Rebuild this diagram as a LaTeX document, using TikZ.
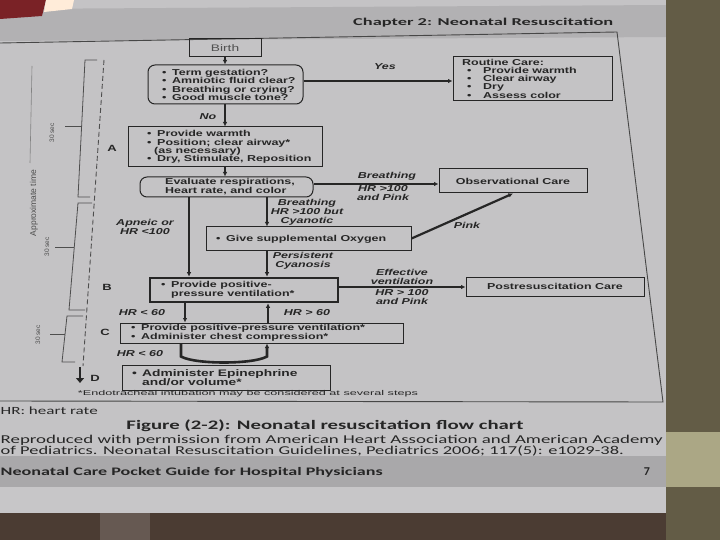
\documentclass[tikz,border=0pt]{standalone}
\usepackage{fontspec}
\usepackage{graphicx}
\usetikzlibrary{arrows.meta,calc}
\setmainfont{Liberation Sans}
\newfontfamily\df[FakeStretch=1.45]{Liberation Sans}
\newfontfamily\cf{Carlito}
\newcommand\hsz[2]{\resizebox{#1}{\height}{#2}}
\newcommand\bl{\makebox[10pt][l]{\textbullet}}
\newcommand\rbl{\hspace{5pt}\makebox[16pt][l]{\textbullet}}
\definecolor{ink}{HTML}{262626}
\definecolor{pagec}{HTML}{C4C3C5}
\definecolor{hdrc}{HTML}{B2B1B3}
\definecolor{ftrc}{HTML}{A9A8AA}
\definecolor{photoc}{HTML}{4B3C33}
\definecolor{olive}{HTML}{635C46}
\definecolor{khaki}{HTML}{ABA785}
\definecolor{redc}{HTML}{7A2226}
\definecolor{tgray}{HTML}{4E4E4E}
\begin{document}
\begin{tikzpicture}[x=1pt,y=-1pt,
  bx/.style={draw=ink, line width=1pt, inner sep=0pt, text=ink,
    font=\df\bfseries\fontsize{8.6}{8.3}\selectfont},
  rbx/.style={bx, rounded corners=7pt},
  txt/.style={inner sep=0pt, text=ink, align=left, anchor=west,
    font=\df\bfseries\fontsize{8.6}{8.3}\selectfont},
  lbl/.style={inner sep=0pt, text=ink, align=center,
    font=\df\bfseries\itshape\fontsize{8.6}{9}\selectfont},
  side/.style={inner sep=0pt, text=ink, font=\df\bfseries\fontsize{9}{9}\selectfont},
  thk/.style={draw=ink, line width=2.6pt},
  thkp/.style={draw=ink, line width=2.2pt},
  thn/.style={draw=ink, line width=1.2pt},
  arr/.style={-{Latex[length=4.5pt,width=4.5pt]}},
  tl/.style={draw=tgray, line width=0.8pt},
  tlab/.style={inner sep=0pt, text=tgray, rotate=90, font=\fontsize{6.5}{7}\selectfont},
  pg/.style={inner sep=0pt, text=ink}]
\useasboundingbox (0,0) rectangle (720,540);
% ---------- photo background ----------
\fill[photoc] (0,0) rectangle (720,540);
\fill[pagec] (0,0) rectangle (666,513);
\fill[hdrc] (0,9) -- (666,5) -- (666,37) -- (0,41) -- cycle;
\fill[redc] (0,0) -- (46,0) -- (42,16) -- (0,19) -- cycle;
\fill[white!85!orange] (46,0) -- (74,0) -- (72,9) -- (44,12) -- cycle;
\fill[ftrc] (0,456) rectangle (666,487);
\fill[pagec!95!white] (0,487) rectangle (666,513);
\fill[photoc!85!white] (100,513) rectangle (150,540);
\fill[olive] (666,0) rectangle (720,540);
\fill[khaki] (666,432) rectangle (720,487);
% ---------- page texts ----------
\node[pg, anchor=west] (hdr) at (353,23) {\hsz{260pt}{\cf\bfseries\fontsize{10.5}{11}\selectfont Chapter 2: Neonatal Resuscitation}};
\draw[ink!85, line width=0.9pt] (0,43) -- (617,32) -- (663,402) -- (0,401);
\node[pg, anchor=west] (hrnote) at (0.5,411) {\hsz{97pt}{\cf\fontsize{11}{12}\selectfont HR: heart rate}};
\node[pg] (cap) at (325,426) {\hsz{397pt}{\cf\bfseries\fontsize{13}{14}\selectfont Figure (2-2): Neonatal resuscitation flow chart}};
\node[pg, anchor=west] (rep1) at (0.5,440) {\hsz{662pt}{\cf\fontsize{12}{12}\selectfont Reproduced with permission from American Heart Association and American Academy}};
\node[pg, anchor=west] (rep2) at (0.5,451) {\hsz{623pt}{\cf\fontsize{12}{12}\selectfont of Pediatrics. Neonatal Resuscitation Guidelines, Pediatrics 2006; 117(5): e1029-38.}};
\node[pg, anchor=west] (ftr) at (0.5,472) {\hsz{382pt}{\cf\bfseries\fontsize{11.5}{12}\selectfont Neonatal Care Pocket Guide for Hospital Physicians}};
\node[pg] (pgno) at (647,472) {\cf\bfseries\fontsize{12}{12}\selectfont 7};
% ---------- timeline ----------
\draw[tgray, line width=0.9pt, dash pattern=on 5pt off 3pt] (104,60) -- (83,366);
\draw[tl] (97,60) -- (85,60) -- (78,197) -- (90,197);
\draw[tl] (81.5,126) -- (65,126);
\node[tlab] (t1) at (52,133) {30 sec};
\draw[tl] (92,203) -- (78,203) -- (69,310) -- (85,310);
\draw[tl] (73.5,247) -- (55,247);
\node[tlab] (t2) at (47,247) {30 sec};
\draw[tl] (83,316) -- (67,316) -- (62,362) -- (75,362);
\draw[tl] (64.5,334) -- (50,334);
\node[tlab] (t3) at (38,335) {30 sec};
\draw[tgray!70, line width=0.6pt] (32,66) -- (30,163);
\node[tlab, font=\fontsize{8.5}{9}\selectfont] (apt) at (34,203) {Approximate time};
% ---------- side letters ----------
\node[side] (sA) at (112,148) {A};
\node[side] (sB) at (107,287) {B};
\node[side] (sC) at (105,332) {C};
\node[side] (sD) at (95,378) {D};
\coordinate (dtop) at (80,367);
\coordinate (dbot) at (80,383);
\draw[ink, line width=2.8pt, -{Triangle[length=5pt,width=8pt]}] (dtop) -- (dbot);
% ---------- boxes ----------
\node[bx, minimum width=72, minimum height=18, font=\df\fontsize{9.5}{10}\selectfont, text=ink!80] (Birth) at (225,48) {Birth};
\node[rbx, minimum width=155, minimum height=39] (Q) at (225.5,84.5) {};
\node[txt] (Qt) at (162,85) {\bl Term gestation?\\\bl Amniotic fluid clear?\\\bl Breathing or crying?\\\bl Good muscle tone?};
\node[bx, minimum width=159, minimum height=44] (Rt) at (532.5,79) {};
\node[txt, font=\df\bfseries\fontsize{8.6}{7.9}\selectfont] (Rtt) at (462,79) {Routine Care:\\\rbl Provide warmth\\\rbl Clear airway\\\rbl Dry\\\rbl Assess color};
\node[bx, minimum width=194, minimum height=40] (A) at (225,147) {};
\node[txt] (At) at (147,147) {\bl Provide warmth\\\bl Position; clear airway*\\\hspace{7pt}(as necessary)\\\bl Dry, Stimulate, Reposition};
\node[rbx, minimum width=173, minimum height=20] (Ev) at (226.5,187) {};
\node[txt, font=\df\bfseries\fontsize{8.6}{7.6}\selectfont] (Evt) at (165,187) {Evaluate respirations,\\Heart rate, and color};
\node[bx, minimum width=148, minimum height=24] (Obs) at (513,181) {Observational Care};
\node[bx, minimum width=205, minimum height=23] (Ox) at (308.5,238.5) {};
\node[txt] (Oxt) at (216,239) {\bl Give supplemental Oxygen};
\node[bx, line width=2.6pt, minimum width=188, minimum height=24] (PPV) at (244,290) {};
\node[txt, font=\df\bfseries\fontsize{8.6}{8.6}\selectfont] (PPVt) at (161,290) {\bl Provide positive-\\\hspace{10pt}pressure ventilation*};
\node[bx, minimum width=178, minimum height=19] (Po) at (555,286.5) {Postresuscitation Care};
\node[bx, minimum width=283, minimum height=20] (C) at (261.5,333) {};
\node[txt, font=\df\bfseries\fontsize{8.6}{8.8}\selectfont] (Ct) at (131,333) {\bl Provide positive-pressure ventilation*\\\bl Administer chest compression*};
\node[bx, minimum width=208, minimum height=25] (D) at (226,377.5) {};
\node[txt, font=\df\bfseries\fontsize{9.5}{9.5}\selectfont] (Dt) at (132,377.5) {\bl Administer Epinephrine\\\hspace{10pt}and/or volume*};
\node[pg] (fn) at (248,394) {\hsz{340pt}{\fontsize{7}{7}\selectfont *Endotracheal intubation may be considered at several steps}};
% ---------- helper coordinates ----------
\coordinate (yY) at (0,81);
\coordinate (yB) at (0,184);
\coordinate (yE) at (0,287);
\coordinate (x189) at (189,0);
\coordinate (x267) at (267,0);
\coordinate (x185) at (185,0);
\coordinate (x268) at (268,0);
\coordinate (x181) at (181,0);
% ---------- connectors ----------
\draw[thk, arr] (Birth.south) -- (Birth.south |- Q.north);
\draw[thn, arr] (Q.east |- yY) -- (Rt.west |- yY);
\node[lbl] (lYes) at (385,67) {Yes};
\draw[thk, arr] (Q.south -| Birth) -- (A.north);
\node[lbl] (lNo) at (208,117) {No};
\draw[thk, arr] (A.south) -- (A.south |- Ev.north);
\draw[thn, arr] (Ev.east |- yB) -- (Obs.west |- yB);
\node[lbl] (lBr) at (387,176) {Breathing};
\node[lbl] (lHR1) at (383,193.5) {HR >100\\and Pink};
\draw[thk, arr] (Ev.south -| x267) -- (Ox.north -| x267);
\node[lbl] (lCy) at (307,212) {Breathing\\HR >100 but\\Cyanotic};
\draw[thk, arr] (Ev.south -| x189) -- (PPV.north -| x189);
\node[lbl] (lAp) at (145,227) {Apneic or\\HR <100};
\draw[thk, arr] (Ox.south -| x267) -- (PPV.north -| x267);
\node[lbl] (lPc) at (303,261) {Persistent\\Cyanosis};
\draw[thkp, arr] (Ox.east) -- (Obs.south);
\node[lbl] (lPk) at (467,225) {Pink};
\draw[thn, arr] (PPV.east |- yE) -- (Po.west |- yE);
\node[lbl] (lEf) at (402,276.5) {Effective\\ventilation};
\node[lbl] (lHR2) at (402,297.5) {HR > 100\\and Pink};
\draw[thk, arr] (PPV.south -| x185) -- (C.north -| x185);
\node[lbl] (lL60) at (142,313) {HR < 60};
\draw[thk, arr] (C.north -| x268) -- (PPV.south -| x268);
\node[lbl] (lG60) at (307,313) {HR > 60};
\draw[thk, arr] (C.south -| x181) -- ++(0,13) .. controls +(14,8) and ($(C.south -| x267)+(-14,21)$) .. ($(C.south -| x267)+(0,13)$) -- (C.south -| x267);
\node[lbl] (lL60b) at (140,354) {HR < 60};
\end{tikzpicture}
\end{document}
